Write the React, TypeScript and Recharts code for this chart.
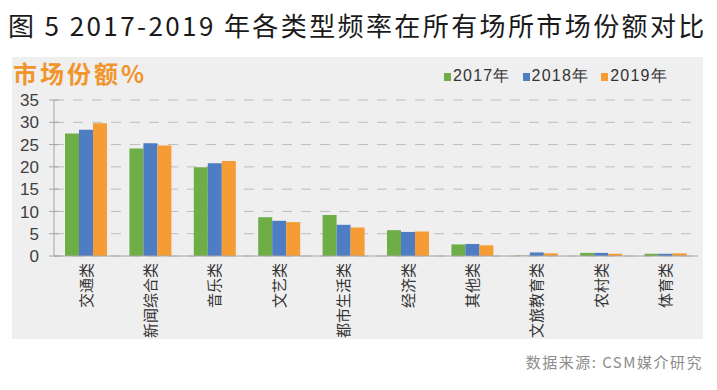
import { Bar, BarChart, CartesianGrid, XAxis, YAxis } from "recharts";

const categories = ["交通类", "新闻综合类", "音乐类", "文艺类", "都市生活类", "经济类", "其他类", "文旅教育类", "农村类", "体育类"];
const y2017 = [27.5, 24.1, 19.9, 8.7, 9.2, 5.8, 2.6, 0.1, 0.7, 0.5];
const y2018 = [28.3, 25.3, 20.8, 7.9, 7.0, 5.4, 2.7, 0.8, 0.7, 0.5];
const y2019 = [29.8, 24.8, 21.3, 7.6, 6.4, 5.5, 2.4, 0.6, 0.5, 0.6];
const yTicks = [0, 5, 10, 15, 20, 25, 30, 35];

const green = "#6fad47";
const blue = "#4e7dc3";
const orange = "#f59c34";
const axisGray = "#a6a6a6";
const cjk = "'Noto Sans CJK SC', 'Liberation Sans', sans-serif";

const data = categories.map((name, i) => ({ name, a: y2017[i], b: y2018[i], c: y2019[i] }));

const legend = [
  { label: "2017年", color: green },
  { label: "2018年", color: blue },
  { label: "2019年", color: orange },
];

function YTick({ x, y, payload }: any) {
  return (
    <g>
      <line x1={49} x2={59} y1={y} y2={y} stroke={axisGray} />
      <text x={39} y={y} dy="0.36em" textAnchor="end" fontSize={17} fill="#404040" fontFamily="'Liberation Sans', sans-serif">
        {payload.value}
      </text>
    </g>
  );
}

function XTick({ x, payload }: any) {
  return (
    <g transform={`translate(${x},263)`}>
      <text transform="rotate(-90)" textAnchor="end" dy="0.36em" fontSize={15} fill="#333" fontFamily={cjk}>
        {payload.value}
      </text>
    </g>
  );
}

export default function App() {
  return (
    <div style={{ position: "absolute", left: 0, top: 0, width: 717, height: 390, background: "#fff", overflow: "hidden" }}>
      <div
        style={{
          position: "absolute",
          left: 8,
          top: 6,
          fontFamily: cjk,
          fontSize: 26,
          color: "#1a1a1a",
          letterSpacing: 2.4,
          whiteSpace: "pre",
        }}
      >
        图 5 2017-2019 年各类型频率在所有场所市场份额对比
      </div>
      <div style={{ position: "absolute", left: 12, top: 57, width: 691, height: 282, background: "#efefef" }} />
      <div
        style={{
          position: "absolute",
          left: 13,
          top: 55,
          fontFamily: cjk,
          fontSize: 24,
          fontWeight: 700,
          color: "#f0952c",
          letterSpacing: 3,
        }}
      >
        市场份额%
      </div>
      <div style={{ position: "absolute", left: 444, top: 66, display: "flex", fontFamily: "'Liberation Sans', sans-serif", fontSize: 16, color: "#333" }}>
        {legend.map((l) => (
          <div key={l.label} style={{ display: "flex", alignItems: "center", marginRight: 12 }}>
            <span style={{ width: 7, height: 8, background: l.color, marginRight: 2 }} />
            <span style={{ letterSpacing: 1.2 }}>{l.label}</span>
          </div>
        ))}
      </div>
      <div style={{ position: "absolute", left: 0, top: 0 }}>
        <BarChart width={717} height={390} data={data} margin={{ top: 100, right: 19, bottom: 0, left: 0 }} barGap={0} barSize={14}>
          <CartesianGrid vertical={false} stroke="#bdbdbd" strokeDasharray="10 9" />
          <XAxis dataKey="name" height={134} interval={0} tick={<XTick />} tickLine={false} axisLine={{ stroke: axisGray }} />
          <YAxis domain={[0, 35]} ticks={yTicks} width={54} interval={0} tick={<YTick />} tickLine={false} axisLine={{ stroke: axisGray }} />
          <Bar dataKey="a" fill={green} isAnimationActive={false} />
          <Bar dataKey="b" fill={blue} isAnimationActive={false} />
          <Bar dataKey="c" fill={orange} isAnimationActive={false} />
        </BarChart>
      </div>
      <div
        style={{
          position: "absolute",
          right: 14,
          top: 351,
          fontFamily: cjk,
          fontSize: 15,
          color: "#8c8c8c",
          letterSpacing: 1.5,
        }}
      >
        数据来源: CSM媒介研究
      </div>
    </div>
  );
}
